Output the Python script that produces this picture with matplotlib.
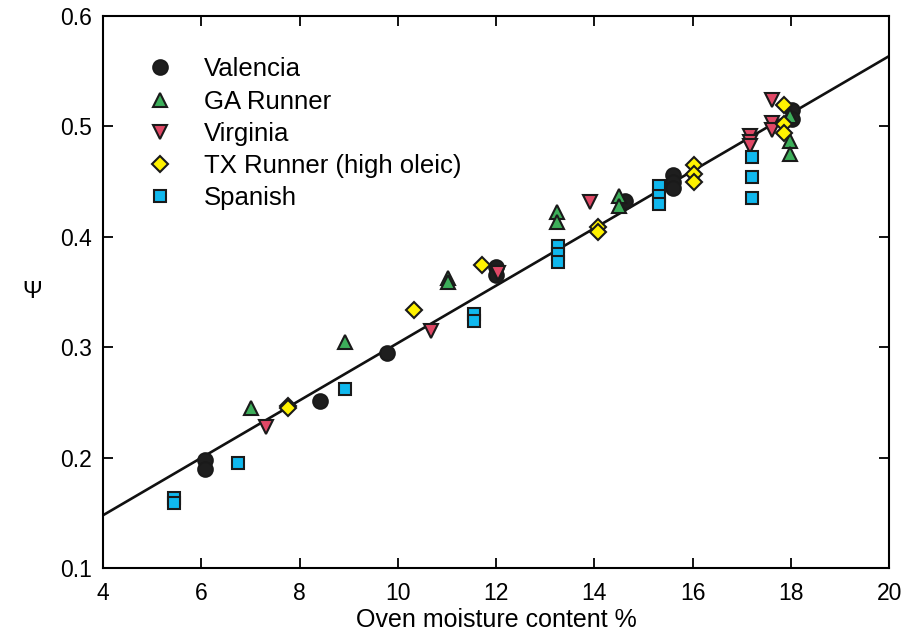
import matplotlib.pyplot as plt
import numpy as np

plt.rcParams['font.family'] = ['Liberation Sans', 'DejaVu Sans']

# valores (umidade %, psi)
valencia_x = [6.08, 6.08, 8.42, 9.77, 11.99, 11.99, 14.62, 15.6, 15.6, 15.6, 18.02, 18.02]
valencia_y = [0.198, 0.190, 0.251, 0.295, 0.373, 0.365, 0.432, 0.456, 0.450, 0.444, 0.515, 0.507]

ga_x = [7.01, 8.93, 11.02, 11.02, 13.23, 13.23, 14.5, 14.5, 17.98, 17.98, 17.98]
ga_y = [0.245, 0.305, 0.363, 0.359, 0.422, 0.413, 0.437, 0.428, 0.509, 0.487, 0.475]

virginia_x = [7.32, 10.67, 12.04, 13.91, 17.17, 17.17, 17.17, 17.61, 17.61, 17.61]
virginia_y = [0.228, 0.315, 0.367, 0.431, 0.491, 0.486, 0.482, 0.524, 0.503, 0.497]

tx_x = [7.77, 7.77, 10.33, 11.72, 14.08, 14.08, 16.03, 16.03, 16.03, 17.85, 17.85, 17.85]
tx_y = [0.247, 0.245, 0.334, 0.374, 0.409, 0.404, 0.465, 0.457, 0.450, 0.519, 0.502, 0.494]

spanish_x = [5.45, 5.45, 6.74, 8.93, 11.55, 11.55, 13.26, 13.26, 13.26, 15.32, 15.32, 15.32,
             17.2, 17.2, 17.2]
spanish_y = [0.163, 0.159, 0.195, 0.262, 0.330, 0.324, 0.392, 0.384, 0.377, 0.446, 0.437, 0.430,
             0.472, 0.454, 0.435]

# reta ajustada
fit_intercept = 0.0437
fit_slope = 0.026
fit_x = np.array([4, 20])

fig = plt.figure(figsize=(9.08, 6.36), dpi=100)
ax = fig.add_axes([0.1134, 0.107, 0.866, 0.868])

ax.plot(fit_x, fit_intercept + fit_slope * fit_x, color='#111111', lw=1.9, zorder=1)

series = [
    (valencia_x, valencia_y, 'o', '#1e1e1e', 10.5, 'Valencia'),
    (ga_x, ga_y, '^', '#3dae5a', 9.5, 'GA Runner'),
    (virginia_x, virginia_y, 'v', '#e04866', 9.5, 'Virginia'),
    (tx_x, tx_y, 'D', '#fff200', 8, 'TX Runner (high oleic)'),
    (spanish_x, spanish_y, 's', '#10b8ee', 9, 'Spanish'),
]
for xs, ys, mk, col, ms, lab in series:
    ax.plot(xs, ys, ls='none', marker=mk, ms=ms, mfc=col, mec='#1a1a1a', mew=1.5,
            label=lab, zorder=3)

ax.set_xlim(4, 20)
ax.set_ylim(0.1, 0.6)
ax.set_xticks(range(4, 21, 2))
ax.set_yticks([0.1, 0.2, 0.3, 0.4, 0.5, 0.6])
ax.set_yticklabels(['0.1', '0.2', '0.3', '0.4', '0.5', '0.6'])
ax.tick_params(direction='in', top=True, right=True, length=7, width=1.3, labelsize=16.5)
ax.tick_params(axis='x', pad=10)
ax.tick_params(axis='y', pad=8)
for s in ax.spines.values():
    s.set_linewidth(1.5)

ax.set_xlabel('Oven moisture content %', fontsize=18, labelpad=2)
ax.set_ylabel('Ψ', fontsize=17, rotation=0, labelpad=20, va='center')

ax.legend(loc='upper left', bbox_to_anchor=(0.056, 0.925), frameon=False, fontsize=18.5,
          handlelength=1.0, handletextpad=1.2, labelspacing=0.32, borderaxespad=0,
          borderpad=0)

fig.savefig('out.png', dpi=100)
